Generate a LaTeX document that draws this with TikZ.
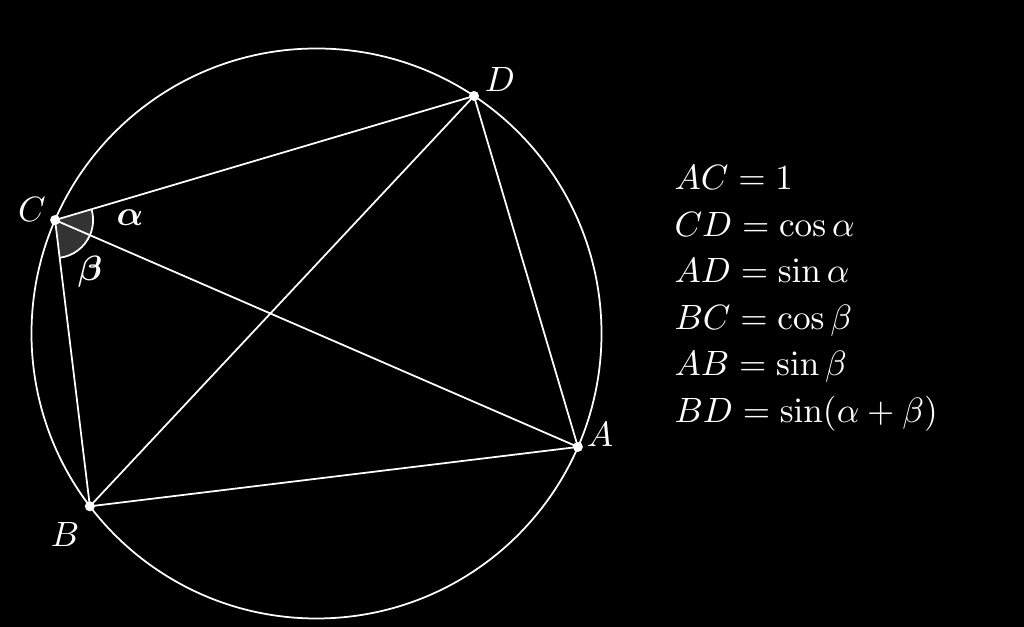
\documentclass[tikz,border=0pt]{standalone}
\usepackage{amsmath}
\usepackage{amssymb}
\usepackage{tikz}
\usetikzlibrary{angles}

\begin{document}
\begin{tikzpicture}
  [line width=.5pt, white, text=white,
   pt/.style={circle, fill=white, inner sep=0pt, minimum size=.1cm}]
  \fill[black] (0, 0) rectangle (10.24, 6.27);
  \useasboundingbox (0, 0) rectangle (10.24, 6.27);

  \coordinate (O) at (3.165, 2.935);
  \coordinate (A) at ([shift={(O)}] -23.46:2.85);
  \coordinate (B) at ([shift={(O)}] 217.33:2.85);
  \coordinate (C) at ([shift={(O)}] 156.54:2.85);
  \coordinate (D) at ([shift={(O)}] 56.45:2.85);

  \pic[fill=white!20!black, draw=white, angle radius=.38cm] {angle=B--C--D};
  \draw (O) circle (2.85);

  \foreach \from/\to in {C/D,D/A,A/B,B/C,C/A,B/D}
  \draw (\from) -- (\to);

  \foreach \p in {A,B,C,D}
  \node[pt] (p\p) at (\p) {};

  \node (lA) at (6.00, 1.92) {$A$};
  \node (lB) at (0.65, 0.92) {$B$};
  \node (lC) at (0.32, 4.17) {$C$};
  \node (lD) at (5.00, 5.47) {$D$};
  \node (alpha) at (1.30, 4.09) {$\boldsymbol{\alpha}$};
  \node (beta) at (0.90, 3.55) {$\boldsymbol{\beta}$};

  \node[anchor=base west] (ac) at (6.62, 4.37) {$AC = 1$};
  \node[anchor=base west] (cd) at (6.62, 3.905) {$CD = \cos\alpha$};
  \node[anchor=base west] (ad) at (6.62, 3.44) {$AD = \sin\alpha$};
  \node[anchor=base west] (bc) at (6.62, 2.975) {$BC = \cos\beta$};
  \node[anchor=base west] (ab) at (6.62, 2.51) {$AB = \sin\beta$};
  \node[anchor=base west] (bd) at (6.62, 2.045) {$BD = \sin(\alpha + \beta)$};
\end{tikzpicture}
\end{document}
